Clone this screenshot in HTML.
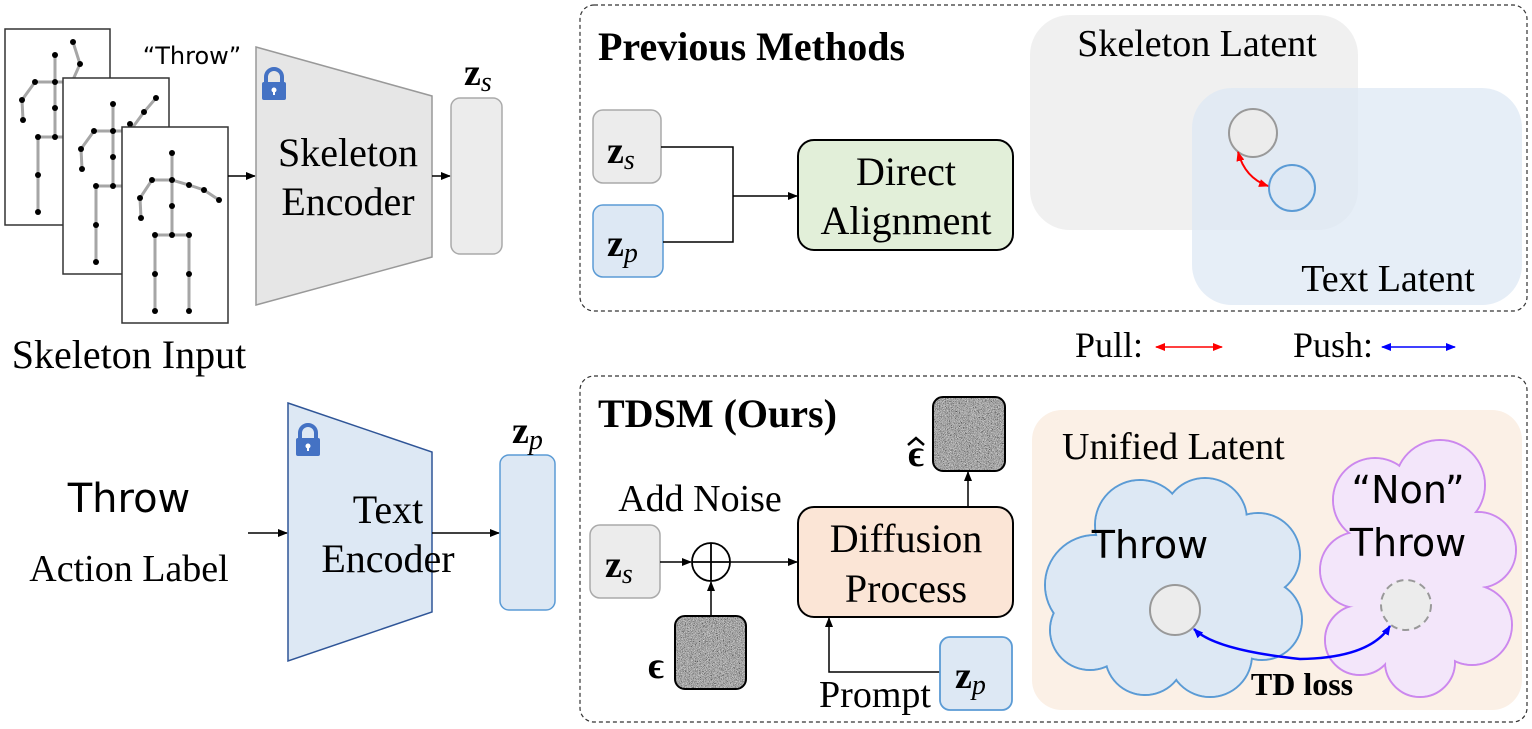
<!DOCTYPE html>
<html><head><meta charset="utf-8"><style>body{margin:0;background:#fff}svg{display:block}</style></head><body>
<svg width="1532" height="729" viewBox="0 0 1532 729" xmlns="http://www.w3.org/2000/svg" font-family="Liberation Serif, serif">
<defs>
<filter id="nz" x="0" y="0" width="100%" height="100%"><feTurbulence type="fractalNoise" baseFrequency="1.5" numOctaves="2" seed="3"/><feColorMatrix type="matrix" values="0.33 0.33 0.33 0 0 0.33 0.33 0.33 0 0 0.33 0.33 0.33 0 0 0 0 0 0 1"/><feComponentTransfer><feFuncR type="linear" slope="2.4" intercept="-0.8"/><feFuncG type="linear" slope="2.4" intercept="-0.8"/><feFuncB type="linear" slope="2.4" intercept="-0.8"/></feComponentTransfer></filter>
<clipPath id="c1"><rect x="675" y="616" width="71" height="73" rx="10"/></clipPath>
<clipPath id="c2"><rect x="933" y="397" width="72" height="74" rx="10"/></clipPath>
<marker id="ah" markerWidth="10" markerHeight="8" refX="9" refY="4" orient="auto" markerUnits="userSpaceOnUse"><path d="M0,0 L10,4 L0,8 z" fill="#000"/></marker>
<marker id="rh" markerWidth="10" markerHeight="8" refX="9" refY="4" orient="auto-start-reverse" markerUnits="userSpaceOnUse"><path d="M0,0 L10,4 L0,8 z" fill="#f00"/></marker>
<marker id="bh" markerWidth="10" markerHeight="8" refX="9" refY="4" orient="auto-start-reverse" markerUnits="userSpaceOnUse"><path d="M0,0 L10,4 L0,8 z" fill="#00f"/></marker>
<g id="lock"><rect x="-12" y="-3" width="24" height="18" rx="2" fill="#4472c4"/><path d="M-8,-3 v-5 a8,8 0 0 1 16,0 v5" fill="none" stroke="#4472c4" stroke-width="4"/><circle cx="0" cy="5" r="2.5" fill="#fff"/><rect x="-1" y="5" width="2" height="5" fill="#fff"/></g>
</defs>

<g>
<rect x="5" y="29" width="105" height="196" fill="#fff" stroke="#333" stroke-width="1.5"/>
<g stroke="#a6a6a6" stroke-width="3" fill="none"><path d="M55,55 V137 M35,82 H72 L80,64 L73,42 M35,82 L22,100 L23,120 M38,137 H72 M38,137 V212"/></g>
<g fill="#000"><circle cx="55" cy="55" r="3"/><circle cx="35" cy="82" r="3"/><circle cx="55" cy="82" r="3"/><circle cx="22" cy="100" r="3"/><circle cx="23" cy="120" r="3"/><circle cx="55" cy="108" r="3"/><circle cx="38" cy="137" r="3"/><circle cx="55" cy="137" r="3"/><circle cx="38" cy="175" r="3"/><circle cx="38" cy="212" r="3"/><circle cx="73" cy="42" r="3"/><circle cx="80" cy="64" r="3"/></g>
<rect x="63" y="78" width="106" height="196" fill="#fff" stroke="#333" stroke-width="1.5"/>
<g stroke="#a6a6a6" stroke-width="3" fill="none"><path d="M113,104 V186 M94,131 H130 L144,112 L156,98 M94,131 L81,149 L82,169 M96,186 H130 M96,186 V262"/></g>
<g fill="#000"><circle cx="113" cy="104" r="3"/><circle cx="94" cy="131" r="3"/><circle cx="113" cy="131" r="3"/><circle cx="81" cy="149" r="3"/><circle cx="82" cy="169" r="3"/><circle cx="113" cy="157" r="3"/><circle cx="96" cy="186" r="3"/><circle cx="113" cy="186" r="3"/><circle cx="96" cy="225" r="3"/><circle cx="96" cy="262" r="3"/><circle cx="130" cy="124" r="3"/><circle cx="144" cy="112" r="3"/><circle cx="156" cy="98" r="3"/></g>
<rect x="122" y="127" width="106" height="196" fill="#fff" stroke="#333" stroke-width="1.5"/>
<g stroke="#a6a6a6" stroke-width="3" fill="none"><path d="M172,153 V235 M152,180 H172 L189,185 L204,190 L219,200 M152,180 L140,198 L141,218 M155,235 H189 M155,235 V311 M189,235 V311"/></g>
<g fill="#000"><circle cx="172" cy="153" r="3"/><circle cx="152" cy="180" r="3"/><circle cx="172" cy="180" r="3"/><circle cx="140" cy="198" r="3"/><circle cx="141" cy="218" r="3"/><circle cx="189" cy="185" r="3"/><circle cx="204" cy="190" r="3"/><circle cx="219" cy="200" r="3"/><circle cx="172" cy="206" r="3"/><circle cx="155" cy="235" r="3"/><circle cx="172" cy="235" r="3"/><circle cx="189" cy="235" r="3"/><circle cx="155" cy="274" r="3"/><circle cx="189" cy="274" r="3"/><circle cx="155" cy="311" r="3"/><circle cx="189" cy="311" r="3"/></g>
</g>
<text x="192" y="64" font-family="DejaVu Sans, sans-serif" font-size="24" text-anchor="middle">“Throw”</text>
<text x="129" y="368" font-size="40" text-anchor="middle">Skeleton Input</text>

<line x1="228" y1="176" x2="255" y2="176" stroke="#000" stroke-width="1.5" marker-end="url(#ah)"/>
<polygon points="256,47 432,96 432,257 256,305" fill="#e6e6e6" stroke="#999" stroke-width="1.5"/>
<use href="#lock" x="274" y="85"/>
<text x="348" y="166" font-size="40" text-anchor="middle">Skeleton</text>
<text x="348" y="215" font-size="40" text-anchor="middle">Encoder</text>
<line x1="432" y1="176" x2="450" y2="176" stroke="#000" stroke-width="1.5" marker-end="url(#ah)"/>
<rect x="451" y="98" width="51" height="156" rx="9" fill="#ececec" stroke="#aaa" stroke-width="1.5"/>
<text x="464" y="85" font-size="38" font-weight="bold">z<tspan font-style="italic" font-weight="normal" font-size="28" dy="6">s</tspan></text>

<text x="129" y="512" font-family="DejaVu Sans, sans-serif" font-size="40" text-anchor="middle">Throw</text>
<text x="129" y="581" font-size="38" text-anchor="middle">Action Label</text>
<line x1="248" y1="533" x2="287" y2="533" stroke="#000" stroke-width="1.5" marker-end="url(#ah)"/>
<polygon points="288,403 432,452 432,612 288,661" fill="#dde8f4" stroke="#2f5597" stroke-width="1.5"/>
<use href="#lock" x="308" y="441"/>
<text x="388" y="523" font-size="40" text-anchor="middle">Text</text>
<text x="388" y="572" font-size="40" text-anchor="middle">Encoder</text>
<line x1="432" y1="533" x2="499" y2="533" stroke="#000" stroke-width="1.5" marker-end="url(#ah)"/>
<rect x="500" y="455" width="55" height="155" rx="9" fill="#dde8f4" stroke="#5b9bd5" stroke-width="1.5"/>
<text x="512" y="443" font-size="38" font-weight="bold">z<tspan font-style="italic" font-weight="normal" font-size="28" dy="6">p</tspan></text>

<rect x="580" y="5" width="947" height="306" rx="14" fill="none" stroke="#333" stroke-width="1.2" stroke-dasharray="4,3"/>
<text x="598" y="60" font-size="40" font-weight="bold">Previous Methods</text>
<rect x="1030" y="15" width="328" height="215" rx="40" fill="#ececec" fill-opacity="0.8"/>
<rect x="1192" y="88" width="330" height="217" rx="40" fill="#dde8f4" fill-opacity="0.75"/>
<text x="1197" y="56" font-size="38" text-anchor="middle">Skeleton Latent</text>
<text x="1388" y="291" font-size="38" text-anchor="middle">Text Latent</text>
<circle cx="1253" cy="133" r="24" fill="#ececec" stroke="#999" stroke-width="2"/>
<circle cx="1292" cy="188" r="23" fill="#dde8f4" stroke="#5b9bd5" stroke-width="2"/>
<path d="M1238,152 Q1245,178 1268,186" fill="none" stroke="#f00" stroke-width="2" marker-start="url(#rh)" marker-end="url(#rh)"/>
<rect x="593" y="110" width="68" height="73" rx="10" fill="#ececec" stroke="#aaa" stroke-width="1.5"/>
<text x="607" y="163" font-size="38" font-weight="bold">z<tspan font-style="italic" font-weight="normal" font-size="28" dy="6">s</tspan></text>
<rect x="593" y="205" width="70" height="72" rx="10" fill="#dde8f4" stroke="#5b9bd5" stroke-width="1.5"/>
<text x="607" y="256" font-size="38" font-weight="bold">z<tspan font-style="italic" font-weight="normal" font-size="28" dy="6">p</tspan></text>
<path d="M661,147 H733 V242 H663" fill="none" stroke="#000" stroke-width="1.5"/>
<line x1="733" y1="196" x2="797" y2="196" stroke="#000" stroke-width="1.5" marker-end="url(#ah)"/>
<rect x="798" y="140" width="215" height="110" rx="16" fill="#e2efd9" stroke="#000" stroke-width="2"/>
<text x="906" y="185" font-size="40" text-anchor="middle">Direct</text>
<text x="906" y="234" font-size="40" text-anchor="middle">Alignment</text>

<text x="1075" y="357" font-size="36">Pull:</text>
<line x1="1156" y1="347" x2="1222" y2="347" stroke="#f00" stroke-width="1.5" marker-start="url(#rh)" marker-end="url(#rh)"/>
<text x="1293" y="357" font-size="36">Push:</text>
<line x1="1382" y1="347" x2="1455" y2="347" stroke="#00f" stroke-width="1.5" marker-start="url(#bh)" marker-end="url(#bh)"/>

<rect x="580" y="376" width="947" height="346" rx="14" fill="none" stroke="#333" stroke-width="1.2" stroke-dasharray="4,3"/>
<text x="598" y="427" font-size="40" font-weight="bold">TDSM (Ours)</text>
<text x="700" y="511" font-size="38" text-anchor="middle">Add Noise</text>
<rect x="590" y="525" width="70" height="73" rx="10" fill="#ececec" stroke="#aaa" stroke-width="1.5"/>
<text x="605" y="577" font-size="38" font-weight="bold">z<tspan font-style="italic" font-weight="normal" font-size="28" dy="6">s</tspan></text>
<line x1="660" y1="562" x2="691" y2="562" stroke="#000" stroke-width="1.5" marker-end="url(#ah)"/>
<circle cx="711" cy="562" r="19" fill="#fff" stroke="#000" stroke-width="1.8"/>
<path d="M692,562 H730 M711,543 V581" stroke="#000" stroke-width="1.8"/>
<line x1="730" y1="562" x2="797" y2="562" stroke="#000" stroke-width="1.5" marker-end="url(#ah)"/>
<line x1="711" y1="616" x2="711" y2="582" stroke="#000" stroke-width="1.5" marker-end="url(#ah)"/>
<g clip-path="url(#c1)"><rect x="675" y="616" width="71" height="73" fill="#666" filter="url(#nz)"/></g>
<rect x="675" y="616" width="71" height="73" rx="10" fill="none" stroke="#000" stroke-width="2"/>
<text x="656" y="678" font-size="38" font-weight="bold" text-anchor="middle">ϵ</text>
<rect x="798" y="507" width="215" height="110" rx="16" fill="#fbe5d6" stroke="#000" stroke-width="2"/>
<text x="906" y="552" font-size="40" text-anchor="middle">Diffusion</text>
<text x="906" y="602" font-size="40" text-anchor="middle">Process</text>
<line x1="968" y1="507" x2="968" y2="472" stroke="#000" stroke-width="1.5" marker-end="url(#ah)"/>
<g clip-path="url(#c2)"><rect x="933" y="397" width="72" height="74" fill="#666" filter="url(#nz)"/></g>
<rect x="933" y="397" width="72" height="74" rx="10" fill="none" stroke="#000" stroke-width="2"/>
<text x="916" y="466" font-size="38" font-weight="bold" text-anchor="middle">ϵ</text>
<path d="M908,445 L916,438 L924,445" fill="none" stroke="#000" stroke-width="2.5"/>
<path d="M940,672 H829 V618" fill="none" stroke="#000" stroke-width="1.5" marker-end="url(#ah)"/>
<text x="875" y="707" font-size="38" text-anchor="middle">Prompt</text>
<rect x="940" y="637" width="72" height="73" rx="10" fill="#dde8f4" stroke="#5b9bd5" stroke-width="1.8"/>
<text x="955" y="688" font-size="38" font-weight="bold">z<tspan font-style="italic" font-weight="normal" font-size="28" dy="6">p</tspan></text>

<rect x="1032" y="410" width="490" height="300" rx="30" fill="#fbf0e6"/>
<text x="1062" y="459" font-size="38">Unified Latent</text>
<g stroke="#5b9bd5" stroke-width="2" fill="#dde8f4">
<circle cx="1095" cy="585" r="50"/><circle cx="1140" cy="525" r="45"/><circle cx="1205" cy="520" r="42"/><circle cx="1258" cy="555" r="42"/><circle cx="1262" cy="620" r="40"/><circle cx="1210" cy="655" r="42"/><circle cx="1145" cy="655" r="40"/><circle cx="1090" cy="630" r="40"/>
</g>
<g fill="#dde8f4"><circle cx="1095" cy="585" r="49"/><circle cx="1140" cy="525" r="44"/><circle cx="1205" cy="520" r="41"/><circle cx="1258" cy="555" r="41"/><circle cx="1262" cy="620" r="39"/><circle cx="1210" cy="655" r="41"/><circle cx="1145" cy="655" r="39"/><circle cx="1090" cy="630" r="39"/><ellipse cx="1175" cy="590" rx="95" ry="70"/></g>
<g stroke="#cc88ee" stroke-width="2" fill="#f3e6fa">
<circle cx="1375" cy="500" r="42"/><circle cx="1440" cy="485" r="45"/><circle cx="1478" cy="550" r="38"/><circle cx="1472" cy="625" r="40"/><circle cx="1420" cy="662" r="35"/><circle cx="1360" cy="640" r="35"/><circle cx="1358" cy="570" r="38"/>
</g>
<g fill="#f3e6fa"><circle cx="1375" cy="500" r="41"/><circle cx="1440" cy="485" r="44"/><circle cx="1478" cy="550" r="37"/><circle cx="1472" cy="625" r="39"/><circle cx="1420" cy="662" r="34"/><circle cx="1360" cy="640" r="34"/><circle cx="1358" cy="570" r="37"/><ellipse cx="1418" cy="575" rx="65" ry="90"/></g>
<text x="1150" y="558" font-family="DejaVu Sans, sans-serif" font-size="38" text-anchor="middle">Throw</text>
<text x="1408" y="503" font-family="DejaVu Sans, sans-serif" font-size="38" text-anchor="middle">“Non”</text>
<text x="1408" y="556" font-family="DejaVu Sans, sans-serif" font-size="38" text-anchor="middle">Throw</text>
<circle cx="1175" cy="610" r="25" fill="#ececec" stroke="#999" stroke-width="2"/>
<circle cx="1406" cy="605" r="25" fill="#ececec" stroke="#999" stroke-width="2" stroke-dasharray="7,5"/>
<path d="M1194,629 Q1215,650 1300,659 Q1370,658 1390,626" fill="none" stroke="#00f" stroke-width="2.5" marker-start="url(#bh)" marker-end="url(#bh)"/>
<text x="1302" y="695" font-size="32" font-weight="bold" text-anchor="middle">TD loss</text>
</svg>
</body></html>
